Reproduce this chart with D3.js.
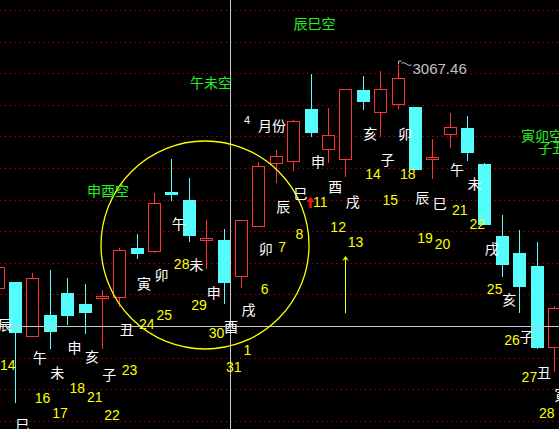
<!DOCTYPE html>
<html>
<head>
<meta charset="utf-8">
<script src="https://cdn.jsdelivr.net/npm/d3@7"></script>
<style>
html, body { margin: 0; padding: 0; background: #000; overflow: hidden; }
svg { display: block; }
.cjk { font-family: "Noto Sans CJK SC", sans-serif; font-size: 14px; }
.num { font-family: "Liberation Sans", Arial, sans-serif; font-size: 14px; }
</style>
</head>
<body>
<script>

// trading days (last one has no candle on screen, only its label)
var dates = ["03-11","03-14","03-15","03-16","03-17","03-18","03-21","03-22","03-23","03-24",
  "03-25","03-28","03-29","03-30","03-31","04-01","04-06","04-07","04-08","04-11",
  "04-12","04-13","04-14","04-15","04-18","04-19","04-20","04-21","04-22","04-25",
  "04-26","04-27","04-28","04-29"];

var opens  = [2889.1,2894.1,2850.9,2867.5,2885.3,2876.3,2880.9,2882.1,2921.5,2918.9,
  2966.1,2959.5,2927.7,2927.5,2898.9,2938.9,2988.9,2990.9,3032.3,3000.3,
  2992.3,3047.5,3030.1,3036.1,3033.7,2992.1,3012.1,3016.9,2988.3,2930.7,
  2917.3,2906.7,2842.1];
var highs  = [2908.0,2894.1,2900.9,2903.5,2896.9,2892.3,2887.5,2921.3,2932.3,2965.3,
  2992.3,2976.9,2943.5,2936.3,2943.5,2990.1,2999.5,3023.5,3060.3,3033.3,
  3048.3,3058.9,3062.9,3067.46,3033.7,3008.1,3028.9,3026.7,2989.3,2947.5,
  2935.5,2926.1,2874.7];
var lows   = [2886.0,2797.1,2850.9,2840.3,2859.5,2852.3,2840.1,2873.7,2912.1,2917.3,
  2958.7,2926.1,2904.1,2876.3,2889.3,2938.9,2972.9,2982.9,3009.7,2989.3,
  2978.1,3031.5,3010.1,3032.1,2984.1,2976.1,3000.9,2990.9,2940.3,2898.1,
  2868.9,2840.1,2822.1];
var closes = [2905.9,2854.1,2896.9,2854.9,2867.5,2870.1,2882.9,2919.5,2917.3,2956.9,
  2964.5,2931.5,2929.3,2894.1,2943.5,2986.7,2994.7,3022.7,3013.9,3011.5,
  3048.3,3038.9,3048.3,3056.9,2984.1,2993.7,3018.1,2998.1,2940.3,2908.1,
  2890.9,2842.1,2873.3];

// day branch written by each day, and the price level where it was written
var branches = [null,"辰","巳","午","未","申","亥","子","丑","寅","卯","午","未","申","酉","戌",
  "卯","辰","巳","申","酉","戌","亥","子","卯","辰","巳","午","未","戌","亥","子","丑","寅"];
var labelLevels = [null,2860,2780,2834,2822,2842,2835,2820,2856,2893,2900,2941,2908,2886,2859,2872,
  2921,2955,2965,2991,2971,2959,3013,2992,3013,2962,2957,2984,2973,2921,2880,2851,2822,2804];

// green notes
var noteTexts  = ["申酉空","午未空","辰巳空","寅卯空","子丑空"];
var notePos    = [6.32, 12.24, 18.2, 31.28, 32.26];
var notePrices = [2967.5, 3053.9, 3101.1, 3011.5, 3002];

var w = 559,
    h = 429;

var x = d3.scaleLinear().domain([0, dates.length - 1]).range([-1.9, 571.9]),
    y = d3.scaleLinear().domain([2776.3, 3119.5]).range([h, 0]);

var red = "#ff3232", cyan = "#54fcfc";

var svg = d3.select("body").append("svg")
    .attr("width", w)
    .attr("height", h)
    .style("background", "#000");

// dotted grid
svg.append("g").selectAll("line")
    .data(d3.range(14))
  .join("line")
    .attr("x1", 0).attr("x2", w)
    .attr("y1", function(k) { return Math.round(10 + k * 31.6) + 0.5; })
    .attr("y2", function(k) { return Math.round(10 + k * 31.6) + 0.5; })
    .attr("stroke", "#a00000")
    .attr("stroke-dasharray", "1.5,3.3");

var candles = opens.map(function(o, i) {
  return {i: i, open: o, high: highs[i], low: lows[i], close: closes[i]};
});

var cg = svg.append("g").attr("shape-rendering", "crispEdges");

function cx(d) { return Math.round(x(d.i) - 0.5) + 0.5; }
function up(d) { return d.close >= d.open; }

var c = cg.selectAll("g").data(candles).join("g");

// upper wick
c.append("line")
    .attr("x1", cx).attr("x2", cx)
    .attr("y1", function(d) { return y(d.high); })
    .attr("y2", function(d) { return y(Math.max(d.open, d.close)); })
    .attr("stroke", function(d) { return up(d) ? red : cyan; });
// lower wick
c.append("line")
    .attr("x1", cx).attr("x2", cx)
    .attr("y1", function(d) { return y(Math.min(d.open, d.close)); })
    .attr("y2", function(d) { return y(d.low); })
    .attr("stroke", function(d) { return up(d) ? red : cyan; });

c.append("rect")
    .attr("x", function(d) { var l = Math.round(x(d.i) - 6.5); return up(d) ? l + 0.5 : l; })
    .attr("width", function(d) { return up(d) ? 12 : 13; })
    .attr("y", function(d) {
      var t = Math.round(y(Math.max(d.open, d.close)));
      return up(d) ? t + 0.5 : t;
    })
    .attr("height", function(d) {
      var t = Math.round(y(Math.max(d.open, d.close))),
          b = Math.round(y(Math.min(d.open, d.close)));
      return Math.max(up(d) ? b - t : b - t + 1, 1);
    })
    .attr("fill", function(d) { return up(d) ? "#000" : cyan; })
    .attr("stroke", function(d) { return up(d) ? red : "none"; });

// crosshair
var crossIdx = 13.34, crossPrice = 2858.3;
svg.append("line")
    .attr("x1", Math.round(x(crossIdx)) + 0.5).attr("x2", Math.round(x(crossIdx)) + 0.5)
    .attr("y1", 0).attr("y2", h)
    .attr("stroke", "#c8c8c8");
svg.append("line")
    .attr("x1", 0).attr("x2", w)
    .attr("y1", Math.round(y(crossPrice)) + 0.5).attr("y2", Math.round(y(crossPrice)) + 0.5)
    .attr("stroke", "#c8c8c8");

// yellow circle
svg.append("circle")
    .attr("cx", x(11.9))
    .attr("cy", y(2923.5))
    .attr("r", 104)
    .attr("fill", "none")
    .attr("stroke", "#ffff00")
    .attr("stroke-width", 1.3);

// yellow arrow up
var ax = Math.round(x(19.97)) + 0.5, ay0 = y(2869), ay1 = y(2914.7);
svg.append("line")
    .attr("x1", ax).attr("x2", ax)
    .attr("y1", ay0).attr("y2", ay1 + 2)
    .attr("stroke", "#ffff00");
svg.append("path")
    .attr("d", "M" + ax + "," + ay1 + "L" + (ax - 3.5) + "," + (ay1 + 5) + "L" + ax + "," + (ay1 + 3) +
      "L" + (ax + 3.5) + "," + (ay1 + 5) + "Z")
    .attr("fill", "#ffff00");

// red arrow
var rx = x(17.97), ry = y(2961.9);
svg.append("path")
    .attr("d", "M" + rx + "," + ry + "L" + (rx + 4) + "," + (ry + 5) + "L" + (rx + 1.3) + "," + (ry + 5) +
      "L" + (rx + 1.3) + "," + (ry + 11) + "L" + (rx - 1.3) + "," + (ry + 11) + "L" + (rx - 1.3) + "," + (ry + 5) +
      "L" + (rx - 4) + "," + (ry + 5) + "Z")
    .attr("fill", "#ff1010");

// high marker
var hx = Math.round(x(23) - 0.5) + 0.5, hy = y(highs[23]);
svg.append("path")
    .attr("d", "M" + hx + "," + (hy - 1) + "L" + hx + "," + (hy - 4) + "L" + (hx + 3) + "," + (hy - 4) +
      "M" + (hx + 3) + "," + (hy - 2) + "Q" + (hx + 6) + "," + (hy - 3) + " " + (hx + 8) + "," + (hy - 1) +
      "T" + (hx + 13) + "," + hy)
    .attr("fill", "none")
    .attr("stroke", "#c0c0c0");
svg.append("text")
    .attr("class", "num")
    .attr("x", hx + 14)
    .attr("y", hy + 9)
    .attr("fill", "#c0c0c0")
    .style("font-size", "15px")
    .text(highs[23].toFixed(2));

// month mark
var mg = svg.append("g").attr("fill", "#fff");
mg.append("text")
    .attr("class", "num")
    .attr("x", x(14.14))
    .attr("y", y(3023.5))
    .attr("dominant-baseline", "central")
    .style("font-size", "11px")
    .text("4");
mg.append("text")
    .attr("class", "cjk")
    .attr("x", x(14.14) + 14)
    .attr("y", y(3019.5))
    .attr("dominant-baseline", "central")
    .text("月份");

// branch and day labels
var labels = dates.map(function(d, i) {
  return {i: i, branch: branches[i], day: +d.slice(3), level: labelLevels[i]};
}).filter(function(d) { return d.level != null; });

svg.append("g").selectAll("text")
    .data(labels)
  .join("text")
    .attr("class", "cjk")
    .attr("x", function(d) { return x(d.i) - 10.5; })
    .attr("y", function(d) { return y(d.level); })
    .attr("text-anchor", "middle")
    .attr("dominant-baseline", "central")
    .attr("fill", "#fff")
    .text(function(d) { return d.branch; });

svg.append("g").selectAll("text")
    .data(labels)
  .join("text")
    .attr("class", "num")
    .attr("x", function(d) { return x(d.i) - 15.5; })
    .attr("y", function(d) { return y(d.level) + 41; })
    .attr("dominant-baseline", "central")
    .attr("fill", "#ffff00")
    .text(function(d) { return d.day; });

// green notes
svg.append("g").selectAll("text")
    .data(noteTexts)
  .join("text")
    .attr("class", "cjk")
    .attr("x", function(d, i) { return x(notePos[i]); })
    .attr("y", function(d, i) { return y(notePrices[i]); })
    .attr("text-anchor", "middle")
    .attr("dominant-baseline", "central")
    .attr("fill", "#22f022")
    .text(function(d) { return d; });

</script>
</body>
</html>
